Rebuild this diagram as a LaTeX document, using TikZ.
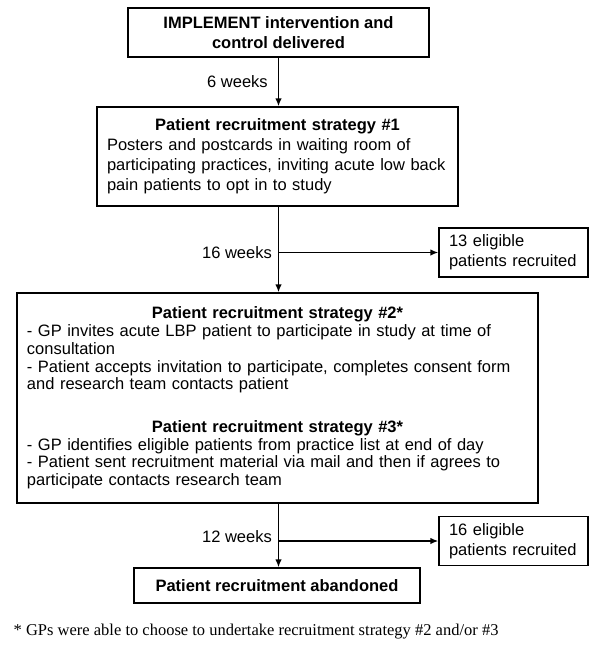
\documentclass[tikz,border=0pt]{standalone}
\usepackage{fontspec}
\setmainfont{Liberation Sans}
\newfontfamily\notefont{Liberation Serif}
\usetikzlibrary{arrows.meta}

\newcommand{\boxtitle}[1]{{\centering\bfseries #1\par}}

\begin{document}
\begin{tikzpicture}[x=1pt,y=-1pt,line width=1.4pt,
    flowbox/.style={draw,inner xsep=10pt,inner ysep=0pt,align=left,
      font=\fontsize{16.5}{20}\selectfont},
    countbox/.style={flowbox,text width=129pt,minimum height=49pt},
    weeks/.style={font=\fontsize{16.5}{20}\selectfont},
    arr/.style={-{Latex[length=8pt,width=6.5pt]}}]
  \useasboundingbox (0,0) rectangle (600,653);
  % Draw start box
  \node[flowbox,align=center,minimum width=301pt,minimum height=49pt,
    font=\bfseries\fontsize{16.5}{20}\selectfont] (implement) at (278.5,32.5)
    {IMPLEMENT intervention and\\control delivered};
  % Draw strategy 1 box
  \node[flowbox,text width=341pt,minimum height=99pt] (strat1) at (277.5,156.5)
    {\boxtitle{Patient recruitment strategy \#1}%
     Posters and postcards in waiting room of\\
     participating practices, inviting acute low back\\
     pain patients to opt in to study};
  % Draw strategy 2 and 3 box
  \node[flowbox,text width=501pt,minimum height=210pt,
    font=\fontsize{16.5}{17.7}\selectfont] (strat23) at (277.5,398)
    {\boxtitle{Patient recruitment strategy \#2*}%
     - GP invites acute LBP patient to participate in study at time of\\
     consultation\\
     - Patient accepts invitation to participate, completes consent form\\
     and research team contacts patient\\[25pt]
     \boxtitle{Patient recruitment strategy \#3*}%
     - GP identifies eligible patients from practice list at end of day\\
     - Patient sent recruitment material via mail and then if agrees to\\
     participate contacts research team};
  % Draw end box
  \node[flowbox,align=center,minimum width=286pt,minimum height=35pt,
    font=\bfseries\fontsize{16.5}{20}\selectfont] (abandon) at (277,585.5)
    {Patient recruitment abandoned};
  % Draw recruited boxes
  \node[countbox] (recruit13) at (513.5,252.5) {13 eligible\\patients recruited};
  \node[countbox] (recruit16) at (513.5,541) {16 eligible\\patients recruited};
  % Draw arrows
  \draw[arr] (implement.south) -- (strat1.north -| implement.south);
  \draw[arr] (strat1.south -| implement.south) -- (strat23.north -| implement.south);
  \draw[arr] (recruit13.west -| implement.south) -- (recruit13.west);
  \draw[arr] (strat23.south -| implement.south) -- (abandon.north -| implement.south);
  \draw[arr] (recruit16.west -| implement.south) -- (recruit16.west);
  % Draw time labels
  \node[weeks] (wait6) at (237.5,82) {6 weeks};
  \node[weeks] (wait16) at (237,253) {16 weeks};
  \node[weeks] (wait12) at (237,537) {12 weeks};
  % Draw footnote
  \node[anchor=west,inner sep=0pt,font=\notefont\fontsize{16.5}{20}\selectfont] (note) at (13,632)
    {* GPs were able to choose to undertake recruitment strategy \#2 and/or \#3};
\end{tikzpicture}
\end{document}
